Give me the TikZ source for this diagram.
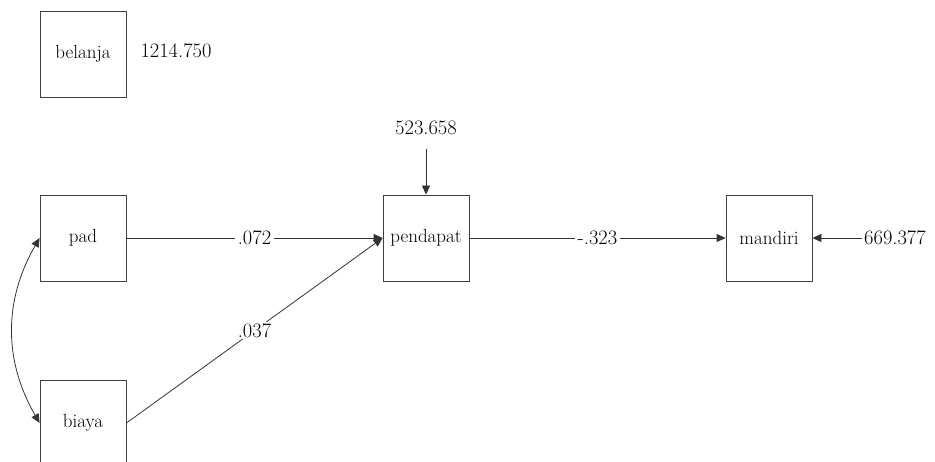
\documentclass[tikz,border=0pt]{standalone}
\usetikzlibrary{positioning,arrows.meta}
\begin{document}
\begin{tikzpicture}[
  x=1pt, y=-1pt,
  var/.style={rectangle, draw=black!75, line width=0.8pt, minimum width=86pt, minimum height=86pt, inner sep=0pt, font=\fontsize{19}{22}\selectfont},
  link/.style={-{Triangle[length=9pt,width=8pt]}, line width=0.8pt, draw=black!80},
  coef/.style={fill=white, inner xsep=3pt, inner ysep=1pt, font=\fontsize{20.5}{24}\selectfont},
  err/.style={inner sep=2pt, font=\fontsize{20.5}{24}\selectfont},
  node distance=343pt
]
\useasboundingbox (0,0) rectangle (935,462);

% Exogenous
\node[var] (pad) at (83,238) {pad};
\node[var, above of=pad, node distance=184pt] (belanja) {belanja};
\node[var, below of=pad, node distance=185pt] (biaya) {biaya};

% Endogenous
\node[var, right of=pad] (pendapat) {pendapat};
\node[var, right of=pendapat] (mandiri) {mandiri};

% Variances
\node[err, right of=belanja, node distance=93pt, yshift=3pt] (vbelanja) {1214.750};
\node[err, above of=pendapat, node distance=110pt] (epend) {523.658};
\node[err, right of=mandiri, node distance=126pt] (emand) {669.377};

% Paths
\draw[link] (pad) -- node[coef] {.072} (pendapat);
\draw[link] (biaya.east) -- node[coef] {.037} (pendapat.west);
\draw[link] (pendapat) -- node[coef] {-.323} (mandiri);
\draw[link, shorten <=12pt] (epend) -- (pendapat);
\draw[link] (emand) -- (mandiri);

% Covariance
\draw[link, {Triangle[length=9pt,width=8pt]}-{Triangle[length=9pt,width=8pt]}] (pad.west) to[bend right=30] (biaya.west);
\end{tikzpicture}
\end{document}
